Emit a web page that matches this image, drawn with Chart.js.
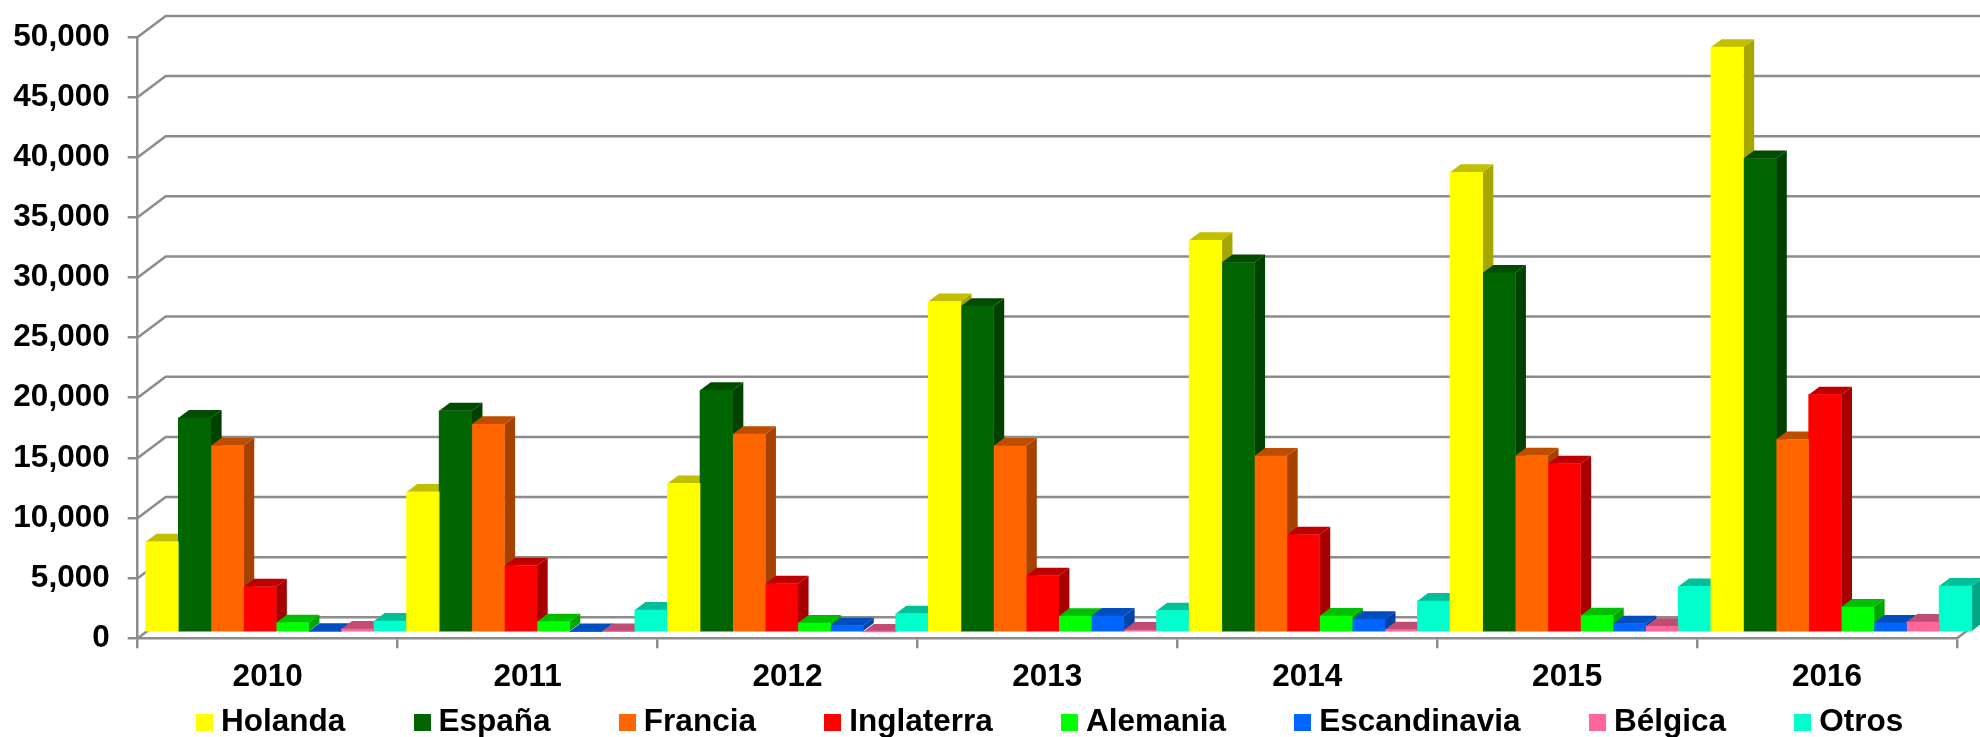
<!doctype html>
<html lang="es">
<head>
<meta charset="utf-8" />
<title>Holanda, España, Francia 2010-2016</title>
<style>
  html, body { margin: 0; padding: 0; background: #fff; }
  canvas { display: block; }
</style>
</head>
<body>
<canvas id="chart" width="1980" height="737"></canvas>
<script src="https://cdn.jsdelivr.net/npm/chart.js"></script>
<script>
const years = ["2010", "2011", "2012", "2013", "2014", "2015", "2016"];

const holanda      = [7520, 11670, 12380, 27500, 32590, 38250, 48650];
const espana       = [17810, 18410, 20120, 27115, 30735, 29880, 39390];
const francia      = [15510, 17300, 16470, 15480, 14650, 14680, 16030];
const inglaterra   = [3790, 5530, 4035, 4700, 8100, 14015, 19760];
const alemania     = [800, 885, 770, 1325, 1354, 1380, 2100];
const escandinavia = [80, 60, 550, 1354, 1078, 720, 775];
const belgica      = [275, 60, 30, 190, 220, 500, 857];
const otros        = [940, 1850, 1550, 1800, 2600, 3815, 3840];

const seriesNames = ["Holanda", "España", "Francia", "Inglaterra", "Alemania", "Escandinavia", "Bélgica", "Otros"];
const seriesValues = [holanda, espana, francia, inglaterra, alemania, escandinavia, belgica, otros];

// cara frontal, cara superior, cara lateral
const frontColors = ["#ffff00", "#006400", "#ff6600", "#ff0000", "#00ff00", "#0066ff", "#ff6699", "#00ffcc"];
const topColors   = ["#c2bf00", "#004b00", "#bf4d00", "#bf0000", "#00bf00", "#004dbf", "#bf4d73", "#00bf99"];
const sideColors  = ["#a6a600", "#004100", "#a64200", "#a60000", "#00a600", "#0042a6", "#a64263", "#00a685"];

const GRID = "#8c8c8c";
const FONT = { family: "'Liberation Sans', Arial, sans-serif", size: 31.5, weight: "bold" };

// falso 3D: pared del fondo y profundidad de las barras
const WALL_DX = 28, WALL_DY = 21;
const BAR_DX = 10.7, BAR_DY = 8;
const PLANE_X = 8, PLANE_Y = 6, PLANE_K = 1.0037;

// posición de la leyenda
const LEGEND_TOP = 631, LEGEND_SHIFT = 75;

// cuadradito de la leyenda
function swatch(color) {
  const c = document.createElement("canvas");
  c.width = 17;
  c.height = 17;
  const g = c.getContext("2d");
  g.fillStyle = color;
  g.fillRect(0, 0, 17, 17);
  return c;
}

const fake3d = {
  id: "fake3d",
  afterLayout(chart) {
    chart.legend.top = LEGEND_TOP;
    chart.legend.left += LEGEND_SHIFT;
    chart.legend.right += LEGEND_SHIFT;
  },
  // mueve las barras al plano medio del suelo
  afterDatasetsUpdate(chart) {
    const left = chart.chartArea.left;
    chart.getSortedVisibleDatasetMetas().forEach(meta => {
      meta.data.forEach(bar => {
        bar.x = left + (bar.x - left) * PLANE_K + PLANE_X;
        bar.width = bar.width * PLANE_K;
        bar.y -= PLANE_Y;
        bar.base -= PLANE_Y;
      });
    });
  },
  beforeDatasetsDraw(chart) {
    const { ctx, chartArea, scales } = chart;
    const left = chartArea.left, right = chartArea.right;

    // rejilla: diagonal en la pared izquierda y línea en el fondo
    ctx.save();
    ctx.strokeStyle = GRID;
    ctx.lineWidth = 2.5;
    scales.y.ticks.forEach(t => {
      const y = scales.y.getPixelForValue(t.value);
      ctx.beginPath();
      ctx.moveTo(left, y);
      ctx.lineTo(left + WALL_DX, y - WALL_DY);
      ctx.lineTo(chart.width, y - WALL_DY);
      ctx.stroke();
    });
    const y0 = scales.y.getPixelForValue(0);
    ctx.beginPath();
    ctx.moveTo(right, y0);
    ctx.lineTo(right + WALL_DX, y0 - WALL_DY);
    ctx.stroke();

    // caras de arriba y de la derecha, de izquierda a derecha
    years.forEach((year, c) => {
      seriesValues.forEach((vals, s) => {
        const bar = chart.getDatasetMeta(s).data[c];
        const x0 = bar.x - bar.width / 2, x1 = bar.x + bar.width / 2;
        ctx.fillStyle = sideColors[s];
        ctx.beginPath();
        ctx.moveTo(x1, bar.y);
        ctx.lineTo(x1 + BAR_DX, bar.y - BAR_DY);
        ctx.lineTo(x1 + BAR_DX, bar.base - BAR_DY);
        ctx.lineTo(x1, bar.base);
        ctx.closePath();
        ctx.fill();
        ctx.fillStyle = topColors[s];
        ctx.beginPath();
        ctx.moveTo(x0, bar.y);
        ctx.lineTo(x0 + BAR_DX, bar.y - BAR_DY);
        ctx.lineTo(x1 + BAR_DX, bar.y - BAR_DY);
        ctx.lineTo(x1, bar.y);
        ctx.closePath();
        ctx.fill();
      });
    });
    ctx.restore();
  }
};

new Chart(document.getElementById("chart"), {
  type: "bar",
  data: {
    labels: years,
    datasets: seriesNames.map((name, i) => ({
      label: name,
      data: seriesValues[i],
      backgroundColor: frontColors[i],
      borderWidth: 0,
      barPercentage: 1,
      categoryPercentage: 1,
      clip: false
    }))
  },
  plugins: [fake3d],
  options: {
    responsive: false,
    animation: false,
    layout: { padding: { top: 35.3, right: 23, left: 0, bottom: 0 } },
    scales: {
      x: {
        offset: true,
        afterFit: s => { s.height = 58.7; },
        border: { color: GRID, width: 2.5 },
        grid: { offset: true, drawOnChartArea: false, color: GRID, lineWidth: 2.5, tickLength: 10 },
        ticks: { color: "#000", font: FONT, padding: 10, maxRotation: 0, autoSkip: false }
      },
      y: {
        min: 0,
        max: 50000,
        afterFit: s => { s.width = 137.7; },
        border: { color: GRID, width: 2.5 },
        grid: { drawOnChartArea: false, color: GRID, lineWidth: 2.5, tickLength: 10 },
        ticks: {
          stepSize: 5000,
          color: "#000",
          font: FONT,
          padding: 18,
          callback: v => v.toLocaleString("en-US")
        }
      }
    },
    plugins: {
      title: { display: false },
      tooltip: { enabled: false },
      legend: {
        position: "bottom",
        maxHeight: 40,
        labels: {
          color: "#000",
          font: FONT,
          usePointStyle: true,
          boxWidth: 1.5,
          boxHeight: 17,
          padding: 76,
          generateLabels: chart => chart.data.datasets.map((d, i) => ({
            text: d.label,
            fillStyle: d.backgroundColor,
            pointStyle: swatch(d.backgroundColor),
            lineWidth: 0,
            datasetIndex: i,
            hidden: false
          }))
        }
      }
    }
  }
});
</script>
</body>
</html>
